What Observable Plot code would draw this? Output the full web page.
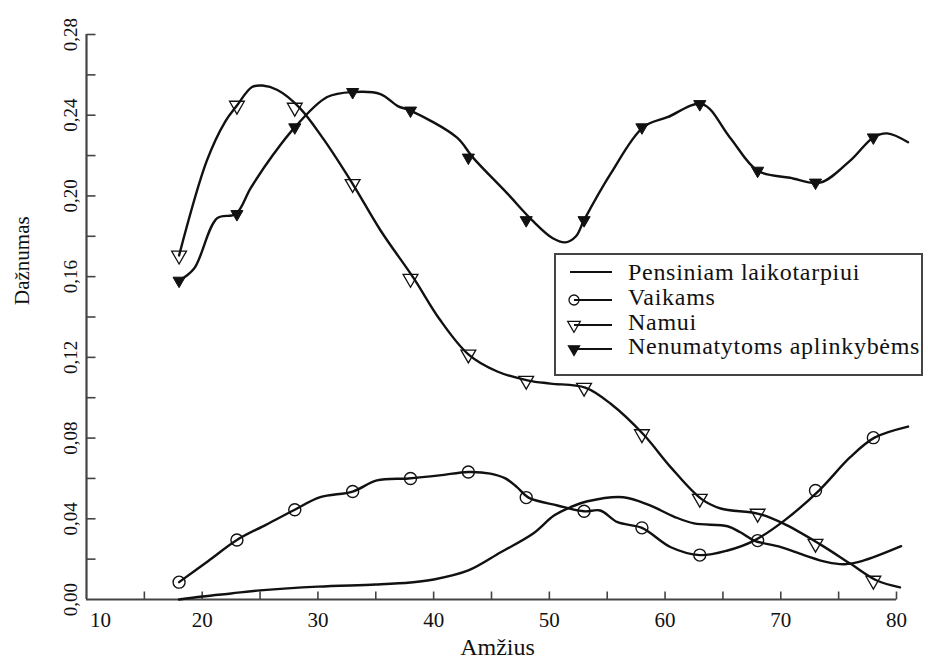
<!DOCTYPE html>
<html><head><meta charset="utf-8">
<script src="https://cdn.jsdelivr.net/npm/d3@7"></script>
<script src="https://cdn.jsdelivr.net/npm/@observablehq/plot@0.6"></script>
<style>body{margin:0;background:#fff;} #chart{width:928px;height:664px;}</style>
</head><body><div id="chart"></div>
<script>
// ---- data ----
const seriesNames = ["Pensiniam laikotarpiui", "Vaikams", "Namui", "Nenumatytoms aplinkybėms"];
const xTitle = "Amžius";
const yTitle = "Dažnumas";
const xTickValues = [15, 20, 25, 30, 35, 40, 45, 50, 55, 60, 65, 70, 75, 80];
const xLabelValues = [20, 30, 40, 50, 60, 70, 80];
const xFirstLabel = [10];
const yTickValues = [0.02, 0.04, 0.06, 0.08, 0.10, 0.12, 0.14, 0.16, 0.18, 0.20, 0.22, 0.24, 0.26, 0.28];
const yLabelValues = [0, 0.04, 0.08, 0.12, 0.16, 0.20, 0.24, 0.28];

// curve points (age, value)
const pensiniamAges = [18, 20, 22.5, 25, 30, 35, 38, 40, 43, 45.8, 48.6, 50.4, 51.8, 53.3, 56.4, 58.7, 60.8, 62.5, 65.4, 66.5, 67.7, 70, 72, 74, 75.5, 77, 80.4];
const pensiniamVals = [0, 0.0015, 0.003, 0.0045, 0.0064, 0.0074, 0.0084, 0.0099, 0.0144, 0.0234, 0.0327, 0.0416, 0.0457, 0.0487, 0.0507, 0.0466, 0.041, 0.0377, 0.0363, 0.0333, 0.0292, 0.026, 0.022, 0.0185, 0.0175, 0.019, 0.0264];

const vaikamsAges = [18, 20.5, 23, 25.5, 28, 30.2, 33, 35.1, 37.8, 40.5, 43, 44.9, 46.2, 47.2, 48.2, 50.7, 53, 54.4, 55.9, 58, 60.5, 63, 65.4, 67.7, 70.3, 73.3, 76, 78.1, 81];
const vaikamsVals = [0.0086, 0.019, 0.0295, 0.037, 0.0445, 0.0507, 0.0535, 0.059, 0.060, 0.0615, 0.0632, 0.0624, 0.060, 0.0557, 0.0505, 0.0466, 0.0437, 0.0441, 0.0383, 0.0355, 0.0259, 0.022, 0.0243, 0.0292, 0.0391, 0.054, 0.0705, 0.0802, 0.0857];

const namuiAges = [18, 20.4, 22, 23, 24.3, 25.2, 26.5, 28.4, 30.5, 33, 35.4, 38.3, 40.5, 43, 45.5, 48.2, 50.1, 53.1, 55.3, 58.1, 60.5, 63.1, 64.8, 68, 70.2, 73.3, 76, 78.3, 80.3];
const namuiVals = [0.1705, 0.2175, 0.237, 0.2448, 0.254, 0.2547, 0.2525, 0.2438, 0.228, 0.206, 0.183, 0.159, 0.139, 0.1215, 0.113, 0.1085, 0.107, 0.105, 0.097, 0.082, 0.0655, 0.050, 0.0451, 0.0426, 0.0377, 0.0277, 0.0178, 0.0094, 0.006];

const nenumAges = [18, 19.3, 21.3, 22.9, 24.2, 26.2, 28, 30.8, 33.1, 35.4, 36.9, 38, 42, 43.4, 46.4, 48.5, 50.3, 51.4, 52.3, 53, 55.3, 58.1, 60.2, 63.2, 65.6, 68, 70.8, 73.4, 76, 78, 79.2, 81];
const nenumVals = [0.158, 0.164, 0.189, 0.191, 0.204, 0.221, 0.234, 0.249, 0.2515, 0.2505, 0.2445, 0.2423, 0.229, 0.219, 0.201, 0.188, 0.179, 0.177, 0.180, 0.188, 0.211, 0.234, 0.239, 0.2455, 0.229, 0.2125, 0.209, 0.2066, 0.2175, 0.229, 0.231, 0.2266];

// marker points
const markerAges = [18, 23, 28, 33, 38, 43, 48, 53, 58, 63, 68, 73, 78];
const vaikamsMarkers = [0.0086, 0.0295, 0.0445, 0.0535, 0.060, 0.0632, 0.0505, 0.0437, 0.0355, 0.022, 0.0292, 0.054, 0.0802];
const namuiMarkers = [0.1705, 0.2448, 0.2438, 0.206, 0.159, 0.1215, 0.1085, 0.105, 0.082, 0.050, 0.0426, 0.0277, 0.0094];
const nenumMarkers = [0.158, 0.191, 0.234, 0.2515, 0.2423, 0.219, 0.188, 0.188, 0.234, 0.2455, 0.2125, 0.2066, 0.229];

// ---- build tables ----
const toRows = (ages, vals, s) => ages.map((a, i) => ({age: a, value: vals[i], series: s}));
const curves = [
  toRows(pensiniamAges, pensiniamVals, seriesNames[0]),
  toRows(vaikamsAges, vaikamsVals, seriesNames[1]),
  toRows(namuiAges, namuiVals, seriesNames[2]),
  toRows(nenumAges, nenumVals, seriesNames[3])
];
const vaikamsPts = toRows(markerAges, vaikamsMarkers, seriesNames[1]);
const namuiPts = toRows(markerAges, namuiMarkers, seriesNames[2]);
const nenumPts = toRows(markerAges, nenumMarkers, seriesNames[3]);

const fmtY = d => d.toFixed(2).replace(".", ",");
const tickUp = {draw(c) { c.moveTo(0, 0); c.lineTo(0, -8); }};
const tickRight = {draw(c) { c.moveTo(0, 0); c.lineTo(9, 0); }};
const ink = "#111";
const axisInk = "#444";
const serif = "'Liberation Serif', 'DejaVu Serif', serif";

const chart = Plot.plot({
  width: 928,
  height: 664,
  marginLeft: 86,
  marginRight: 32,
  marginTop: 34,
  marginBottom: 65,
  style: {fontFamily: serif, background: "white", color: ink},
  x: {domain: [10, 80], axis: null},
  y: {domain: [0, 0.28], axis: null},
  marks: [
    Plot.ruleX([10], {y1: 0, y2: 0.28, stroke: axisInk, strokeWidth: 2.2}),
    Plot.ruleY([0], {x1: 10, x2: 80, stroke: axisInk, strokeWidth: 2.2}),
    Plot.dot(xTickValues, {x: d => d, y: 0, symbol: tickUp, fill: "none", stroke: axisInk, strokeWidth: 1.6}),
    Plot.dot(yTickValues, {x: 10, y: d => d, symbol: tickRight, fill: "none", stroke: axisInk, strokeWidth: 1.6}),
    Plot.text(yLabelValues, {x: 10, y: d => d, text: fmtY, rotate: -90, dx: -16, fontSize: 19, fill: ink}),
    Plot.text(xLabelValues, {x: d => d, y: 0, text: d => String(d), dy: 21, fontSize: 21, fill: ink}),
    Plot.text(xFirstLabel, {x: d => d, y: 0, text: d => String(d), dx: 14, dy: 21, fontSize: 21, fill: ink}),
    Plot.text([yTitle], {frameAnchor: "left", text: d => d, rotate: -90, dx: -64, dy: -12, fontSize: 21, fill: ink}),
    Plot.text([xTitle], {frameAnchor: "bottom", text: d => d, dx: 6, dy: 55, fontSize: 24, fill: ink}),
    ...curves.map(data => Plot.line(data, {x: "age", y: "value", curve: "catmull-rom", stroke: ink, strokeWidth: 2.4})),
    Plot.dot(vaikamsPts, {x: "age", y: "value", r: 6, fill: "none", stroke: ink, strokeWidth: 1.4}),
    Plot.dot(namuiPts, {x: "age", y: "value", symbol: "triangle", rotate: 180, r: 5.5, fill: "none", stroke: ink, strokeWidth: 1.3}),
    Plot.dot(nenumPts, {x: "age", y: "value", symbol: "triangle", rotate: 180, r: 4.5, fill: ink, stroke: ink, strokeWidth: 1})
  ]
});
document.getElementById("chart").appendChild(chart);

// ---- legend (drawn inside the same SVG) ----
const svg = d3.select(chart);
const lg = svg.append("g").style("font-family", serif).attr("font-size", 24)
  .attr("letter-spacing", "0.7px").attr("text-anchor", "start").attr("fill", ink);
lg.append("rect").attr("x", 555).attr("y", 254).attr("width", 367).attr("height", 121)
  .attr("fill", "white").attr("stroke", axisInk).attr("stroke-width", 2);
const rowsY = [272, 297, 322, 346];
const symbolsLg = [null, "circle", "open", "filled"];
seriesNames.forEach((name, i) => {
  const y = rowsY[i];
  const sy = i === 0 ? y : y + 3;
  lg.append("line").attr("x1", i === 0 ? 570 : 574).attr("x2", 612).attr("y1", sy).attr("y2", sy)
    .attr("stroke", ink).attr("stroke-width", 1.8);
  if (symbolsLg[i] === "circle") {
    lg.append("circle").attr("cx", 574).attr("cy", sy).attr("r", 5).attr("fill", "none").attr("stroke", ink).attr("stroke-width", 1.3);
  } else if (symbolsLg[i]) {
    const size = symbolsLg[i] === "open" ? 70 : 55;
    lg.append("path").attr("d", d3.symbol(d3.symbolTriangle, size)())
      .attr("transform", `translate(574,${sy}) rotate(180)`)
      .attr("fill", symbolsLg[i] === "open" ? "none" : ink).attr("stroke", ink).attr("stroke-width", 1.2);
  }
  lg.append("text").attr("x", 628).attr("y", y).attr("dy", "0.32em").text(name);
});
</script></body></html>
